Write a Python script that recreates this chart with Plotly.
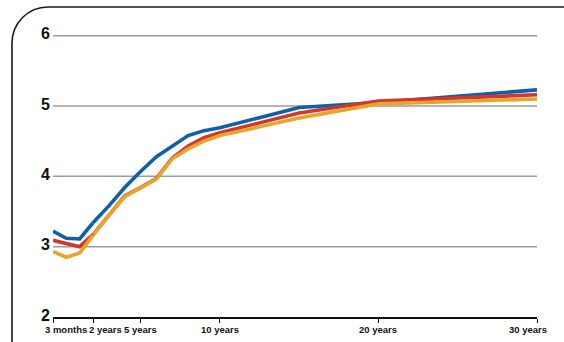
import math
import plotly.graph_objects as go

# Yield curves by term to maturity (percent)
terms = ["3 months", "6 months", "1 year", "2 years", "3 years", "4 years", "5 years",
         "6 years", "7 years", "8 years", "9 years", "10 years", "15 years", "20 years", "30 years"]
term_years = [0.25, 0.5, 1, 2, 3, 4, 5, 6, 7, 8, 9, 10, 15, 20, 30]
blue_yield = [3.22, 3.12, 3.11, 3.34, 3.58, 3.84, 4.07, 4.28, 4.43, 4.58, 4.65, 4.69, 4.98, 5.05, 5.23]
red_yield = [3.09, 3.04, 3.00, 3.17, 3.45, 3.72, 3.84, 3.97, 4.26, 4.43, 4.55, 4.62, 4.90, 5.07, 5.16]
orange_yield = [2.93, 2.85, 2.91, 3.16, 3.45, 3.71, 3.84, 3.96, 4.25, 4.39, 4.50, 4.58, 4.83, 5.03, 5.10]

y_ticks = [2, 3, 4, 5, 6]
x_tick_years = [0.25, 2, 5, 10, 20, 30]
x_tick_labels = ["3 months", "2 years", "5 years", "10 years", "20 years", "30 years"]

series = [
    ("blue", blue_yield, "#0f5fa9"),
    ("red", red_yield, "#d3372c"),
    ("orange", orange_yield, "#e9a52a"),
]

W, H = 564, 342
ML, MR, MT, MB = 53, 27, 34, 25
PW, PH = W - ML - MR, H - MT - MB
Y_PER_PX = 1 / 70.33           # vertical scale: percent per pixel
Y_TOP = 2 + PH * Y_PER_PX      # a hair above 6 so the top rule is not clipped

SPLIT = 2                      # short end on a log scale up to 2 years, linear beyond
short_px = 40                  # width of the short-end panel
short_frac = short_px / PW
overlap_px = 3                 # panels overlap slightly so the curves join cleanly
log_per_px = (math.log10(SPLIT) - math.log10(0.25)) / short_px
yr_per_px = (30 - SPLIT) / (PW - short_px)

FONT = "Liberation Sans, Arial, sans-serif"

fig = go.Figure()
for name, ys, color in series:
    short = [(t, v) for t, v in zip(term_years, ys) if t <= SPLIT]
    long_ = [(t, v) for t, v in zip(term_years, ys) if t >= SPLIT]
    fig.add_trace(go.Scatter(x=[p[0] for p in short], y=[p[1] for p in short],
                             xaxis="x2", yaxis="y", mode="lines", name=name,
                             line=dict(color=color, width=3.6), showlegend=False,
                             hoverinfo="skip"))
    fig.add_trace(go.Scatter(x=[p[0] for p in long_], y=[p[1] for p in long_],
                             xaxis="x", yaxis="y", mode="lines", name=name,
                             line=dict(color=color, width=3.6), showlegend=False,
                             hoverinfo="skip"))

axis_common = dict(showgrid=False, zeroline=False, showline=True, linecolor="#111",
                   linewidth=1.5, ticks="outside", ticklen=4, tickwidth=1.2,
                   tickcolor="#111", showticklabels=False, anchor="y", fixedrange=True)

fig.update_layout(
    width=W, height=H,
    margin=dict(l=ML, r=MR, t=MT, b=MB),
    paper_bgcolor="white", plot_bgcolor="rgba(0,0,0,0)",
    xaxis=dict(domain=[short_frac - overlap_px / PW, 1],
               range=[SPLIT - overlap_px * yr_per_px, 30], type="linear",
               tickvals=[t for t in x_tick_years if t >= SPLIT], **axis_common),
    xaxis2=dict(domain=[0, short_frac + overlap_px / PW], type="log",
                range=[math.log10(0.25), math.log10(SPLIT) + overlap_px * log_per_px],
                tickvals=[t for t in x_tick_years if t < SPLIT], **axis_common),
    yaxis=dict(range=[2, Y_TOP], tickvals=y_ticks, anchor="free", position=0,
               showgrid=False, zeroline=False, showline=False, ticks="",
               ticklabelstandoff=3, ticklabelshift=-2,
               tickfont=dict(family=FONT, size=16, color="#111", weight="bold"),
               fixedrange=True),
)

# horizontal rules across the whole plot width
for v in y_ticks[1:]:
    fig.add_shape(type="line", xref="paper", yref="y", x0=0, x1=1, y0=v, y1=v,
                  line=dict(color="#9c9c9c", width=1.5), layer="below")

# maturity labels under the axis
label_y = (H - MB - 329.5) / PH
for t, lab in zip(x_tick_years, x_tick_labels):
    if t < SPLIT:
        ref, xv = "x2", math.log10(t)
    else:
        ref, xv = "x", t
    anchor, shift = "center", 0
    if lab == "3 months":
        anchor, shift = "left", -10
    elif lab == "2 years":
        anchor, shift = "left", -6
    elif lab == "30 years":
        anchor, shift = "right", 12
    fig.add_annotation(x=xv, y=label_y, xref=ref, yref="paper", text=lab,
                       showarrow=False, xanchor=anchor, yanchor="middle", xshift=shift,
                       font=dict(family=FONT, size=9.5, color="#111", weight="bold"))

# rounded panel frame (top and left edges)
def px(x):
    return (x - ML) / PW

def py(y):
    return (H - MB - y) / PH

R = 36
fx, fy = 12, 7
k = 0.5523 * R
path = (f"M {px(fx)} {py(H + 5)} L {px(fx)} {py(fy + R)} "
        f"C {px(fx)} {py(fy + R - k)} {px(fx + R - k)} {py(fy)} {px(fx + R)} {py(fy)} "
        f"L {px(W + 5)} {py(fy)}")
fig.add_shape(type="path", xref="paper", yref="paper", path=path,
              line=dict(color="#1a1a1a", width=1.6))

fig.write_html("out.html")
